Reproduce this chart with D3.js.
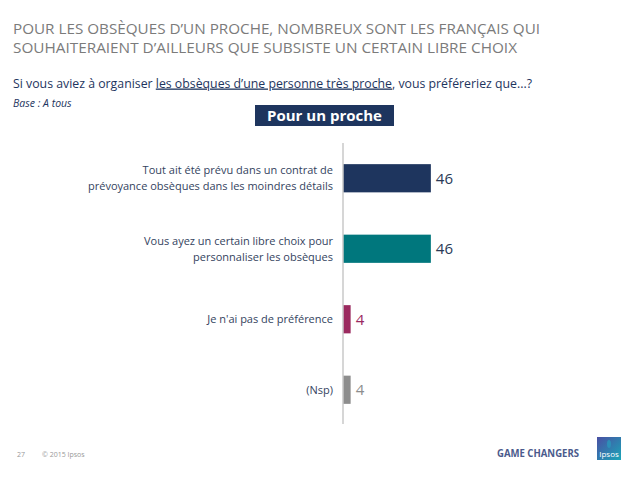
<!DOCTYPE html>
<html>
<head>
<meta charset="utf-8">
<script src="https://cdn.jsdelivr.net/npm/d3@7"></script>
<style>
  body { margin: 0; background: #fff; }
  text { font-family: "Open Sans", sans-serif; }
</style>
</head>
<body>
<div id="chart"></div>
<script>
// data
const categories = [
  ["Tout ait été prévu dans un contrat de", "prévoyance obsèques dans les moindres détails"],
  ["Vous ayez un certain libre choix pour", "personnaliser les obsèques"],
  ["Je n'ai pas de préférence"],
  ["(Nsp)"]
];
const values = [46, 46, 4, 4];
const barColors = ["#1e355e", "#00777d", "#9b2a5f", "#8d8d8d"];
const labelColors = ["#2a3a56", "#2a3a56", "#9b2a5f", "#8d8d8d"];

const W = 638, H = 478;
const svg = d3.select("#chart").append("svg")
  .attr("width", W).attr("height", H);

// titles
const title = ["POUR LES OBSÈQUES D’UN PROCHE, NOMBREUX SONT LES FRANÇAIS QUI",
               "SOUHAITERAIENT D’AILLEURS QUE SUBSISTE UN CERTAIN LIBRE CHOIX"];
svg.selectAll(".title").data(title).enter().append("text")
  .attr("x", 13).attr("y", (d, i) => 34 + i * 19.2)
  .attr("font-size", 14.5).attr("fill", "#7b7b7b")
  .attr("textLength", (d, i) => i == 0 ? 527 : 504)
  .attr("lengthAdjust", "spacingAndGlyphs")
  .text(d => d);

const sub = svg.append("text").attr("x", 13).attr("y", 87.5)
  .attr("font-size", 13).attr("fill", "#1e355e")
  .attr("textLength", 519).attr("lengthAdjust", "spacingAndGlyphs");
sub.append("tspan").text("Si vous aviez à organiser ");
sub.append("tspan").attr("text-decoration", "underline").text("les obsèques d’une personne très proche");
sub.append("tspan").text(", vous préféreriez que...?");

svg.append("text").attr("x", 13).attr("y", 106.5)
  .attr("font-size", 10.5).attr("font-style", "italic").attr("fill", "#1e355e")
  .text("Base : A tous");

// header box
svg.append("rect").attr("x", 255).attr("y", 105).attr("width", 139).attr("height", 21)
  .attr("fill", "#1e355e");
svg.append("text").attr("x", 324.5).attr("y", 121).attr("text-anchor", "middle")
  .attr("font-size", 15).attr("font-weight", "bold").attr("fill", "#fff")
  .text("Pour un proche");

// scales
const x = d3.scaleLinear().domain([0, 100]).range([343, 534]);
const y = d3.scaleBand().domain(d3.range(values.length)).range([143, 425]).paddingInner(0.6).paddingOuter(0.3);

// bars
svg.selectAll(".bar").data(values).enter().append("rect")
  .attr("x", x(0)).attr("y", (d, i) => y(i))
  .attr("width", d => x(d) - x(0)).attr("height", y.bandwidth())
  .attr("fill", (d, i) => barColors[i]);

// axis line
svg.append("line").attr("x1", x(0)).attr("x2", x(0))
  .attr("y1", 143).attr("y2", 424)
  .attr("stroke", "#c8c8c8").attr("stroke-width", 1.5);

// value labels
svg.selectAll(".val").data(values).enter().append("text")
  .attr("x", d => x(d) + 5).attr("y", (d, i) => y(i) + y.bandwidth() / 2 + 5.5)
  .attr("font-size", 15).attr("fill", (d, i) => labelColors[i])
  .text(d => d);

// category labels
const cat = svg.selectAll(".cat").data(categories).enter().append("text")
  .attr("text-anchor", "end").attr("font-size", 11).attr("fill", "#34435e");
cat.selectAll("tspan").data((d, i) => d.map(t => ({t, i, n: d.length}))).enter().append("tspan")
  .attr("x", 333)
  .attr("y", (d, j) => y(d.i) + y.bandwidth() / 2 + 4 + (j - (d.n - 1) / 2) * 16)
  .text(d => d.t);

// footer
svg.append("text").attr("x", 17).attr("y", 457).attr("font-size", 7).attr("fill", "#999").text("27");
svg.append("text").attr("x", 42).attr("y", 457).attr("font-size", 7).attr("fill", "#999").text("© 2015 Ipsos");
svg.append("text").attr("x", 497).attr("y", 457).attr("font-size", 11).attr("font-weight", "bold")
  .attr("fill", "#4b5a8c").attr("font-family", "Liberation Sans, sans-serif")
  .attr("textLength", 82).attr("lengthAdjust", "spacingAndGlyphs").text("GAME CHANGERS");

const grad = svg.append("defs").append("linearGradient").attr("id", "lg")
  .attr("x1", 0).attr("y1", 0).attr("x2", 1).attr("y2", 1);
grad.append("stop").attr("offset", "0%").attr("stop-color", "#4a4fa3");
grad.append("stop").attr("offset", "100%").attr("stop-color", "#1aa6b8");
svg.append("rect").attr("x", 597).attr("y", 437).attr("width", 24).attr("height", 23).attr("fill", "url(#lg)");
svg.append("ellipse").attr("cx", 609).attr("cy", 444).attr("rx", 2).attr("ry", 4).attr("fill", "#2d8fb8");
svg.append("text").attr("x", 609).attr("y", 457).attr("text-anchor", "middle")
  .attr("font-size", 8).attr("fill", "#fff").text("Ipsos");
</script>
</body>
</html>
